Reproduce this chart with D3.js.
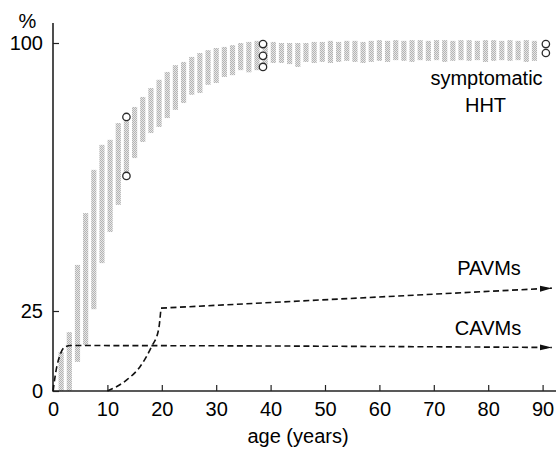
<!DOCTYPE html>
<html>
<head>
<meta charset="utf-8">
<script src="https://cdn.jsdelivr.net/npm/d3@7"></script>
<style>
  body { margin: 0; background: #fff; }
  text { font-family: "Liberation Sans", Arial, sans-serif; fill: #000; }
</style>
</head>
<body>
<div id="chart"></div>
<script>
// age of each gray range bar (years)
var ages = [1.5, 3, 4.5, 6, 7.5, 9, 10.5, 12, 13.5, 15, 16.5, 18, 19.5, 21, 22.5, 24, 25.5, 27, 28.5, 30,
            31.5, 33, 34.5, 36, 37.5, 39, 40.5, 42, 43.5, 45, 46.5, 48, 49.5, 51, 52.5, 54, 55.5, 57, 58.5, 60,
            61.5, 63, 64.5, 66, 67.5, 69, 70.5, 72, 73.5, 75, 76.5, 78, 79.5, 81, 82.5, 84, 85.5, 87, 88.5];
// upper and lower end of each bar (%)
var bandHigh = [12.2, 18.4, 37.9, 52.4, 64.5, 71.5, 72.9, 77.6, 79.0, 82.1, 84.9, 87.4, 89.7, 91.9, 93.8, 94.7, 96.1, 97.2, 98.0, 98.6,
                98.9, 99.4, 100.0, 100.3, 100.6, 100.3, 100.3, 100.0, 100.0, 100.0, 100.0, 100.3, 100.3, 100.6, 100.3, 100.6, 100.6, 100.3, 100.6, 100.8,
                100.6, 100.8, 100.6, 100.8, 100.8, 100.6, 100.8, 100.8, 100.6, 100.8, 100.8, 100.6, 100.8, 100.8, 100.6, 100.8, 100.6, 100.8, 100.6];
var bandLow = [0, 0, 9.1, 14.4, 25.5, 38.4, 47.1, 54.7, 62.5, 67.8, 72.3, 74.8, 76.5, 79.0, 81.3, 83.2, 85.5, 86.0, 88.3, 88.8,
               90.5, 91.0, 92.4, 91.8, 92.4, 93.8, 94.4, 94.4, 94.1, 93.3, 94.7, 94.4, 94.7, 94.4, 94.7, 95.0, 94.7, 94.4, 94.7, 95.0,
               94.7, 95.2, 95.0, 94.7, 95.2, 95.0, 95.2, 94.7, 95.0, 95.2, 95.0, 95.2, 94.7, 95.0, 95.2, 95.0, 95.2, 94.7, 95.0];

// open circles
var circleAges = [13.5, 13.5, 38.6, 38.6, 38.6, 90.6, 90.6];
var circleValues = [79.3, 62.8, 99.7, 96.4, 93.3, 99.7, 97.2];

// dashed curves
var cavmAges = [0, 0.7, 1.3, 2.2, 3.2, 91.7];
var cavmValues = [0, 7.6, 11.3, 13.8, 14.2, 13.6];
var pavmAges = [10, 13.5, 16, 18.1, 19.4, 19.85];
var pavmValues = [0, 3.4, 7.6, 13.8, 19.1, 25.8];
var pavmLineAges = [19.85, 91.7];
var pavmLineValues = [25.8, 31.4];

var xTicks = [0, 10, 20, 30, 40, 50, 60, 70, 80, 90];
var yTicks = [0, 25, 100];

var width = 556, height = 449;

var svg = d3.select('#chart').append('svg')
    .attr('width', width)
    .attr('height', height);

var x = d3.scaleLinear().domain([0, 90]).range([53, 542.6]);
var y = d3.scaleLinear().domain([0, 25, 100]).range([391, 311, 43]);

// stipple fill for the bars
var defs = svg.append('defs');
var pat = defs.append('pattern')
    .attr('id', 'stipple')
    .attr('patternUnits', 'userSpaceOnUse')
    .attr('width', 2).attr('height', 2);
pat.append('rect').attr('width', 2).attr('height', 2).attr('fill', '#e6e6e6');
pat.append('rect').attr('width', 1).attr('height', 1).attr('fill', '#b4b4b4');
pat.append('rect').attr('x', 1).attr('y', 1).attr('width', 1).attr('height', 1).attr('fill', '#b4b4b4');

defs.append('marker')
    .attr('id', 'arrow')
    .attr('markerUnits', 'userSpaceOnUse')
    .attr('viewBox', '0 -4 12 8')
    .attr('refX', 12).attr('refY', 0)
    .attr('markerWidth', 12).attr('markerHeight', 8)
    .attr('orient', 'auto')
  .append('path')
    .attr('d', 'M0,-3L12,0L0,3Z')
    .attr('fill', '#111');

var barW = x(0.95) - x(0);

svg.append('g').selectAll('rect')
    .data(ages)
  .enter().append('rect')
    .attr('x', function(d) { return x(d) - barW / 2; })
    .attr('y', function(d, i) { return y(bandHigh[i]); })
    .attr('width', barW)
    .attr('height', function(d, i) { return y(bandLow[i]) - y(bandHigh[i]); })
    .attr('fill', 'url(#stipple)');

// axes
var xAxis = svg.append('g')
    .attr('transform', 'translate(0,391)')
    .call(d3.axisBottom(x).tickValues(xTicks).tickSize(-6).tickPadding(11));
xAxis.select('.domain').remove();
xAxis.selectAll('line').attr('stroke', '#222').attr('stroke-width', 1.2);
xAxis.selectAll('text').style('font-size', '20px').attr('fill', '#000');

var yAxis = svg.append('g')
    .attr('transform', 'translate(53,0)')
    .call(d3.axisLeft(y).tickValues(yTicks).tickSize(-6).tickPadding(10));
yAxis.select('.domain').remove();
yAxis.selectAll('line').attr('stroke', '#222').attr('stroke-width', 1.2);
yAxis.selectAll('text').style('font-size', '20px').attr('fill', '#000');

svg.append('line')
    .attr('x1', 53).attr('x2', 556).attr('y1', 391).attr('y2', 391)
    .attr('stroke', '#222').attr('stroke-width', 1.6);
svg.append('line')
    .attr('x1', 53).attr('x2', 53).attr('y1', 23).attr('y2', 391.8)
    .attr('stroke', '#222').attr('stroke-width', 1.6);

// dashed lines
var line = d3.line()
    .x(function(d) { return x(d[0]); })
    .y(function(d) { return y(d[1]); });

function dashed(pts, curve, arrow) {
  var p = svg.append('path')
      .attr('d', line.curve(curve)(pts))
      .attr('fill', 'none')
      .attr('stroke', '#111')
      .attr('stroke-width', 1.6)
      .attr('stroke-dasharray', '6,3.5');
  if (arrow) p.attr('marker-end', 'url(#arrow)');
}

dashed(cavmAges.map(function(a, i) { return [a, cavmValues[i]]; }), d3.curveMonotoneX, true);
dashed(pavmAges.map(function(a, i) { return [a, pavmValues[i]]; }), d3.curveMonotoneX, false);
dashed(pavmLineAges.map(function(a, i) { return [a, pavmLineValues[i]]; }), d3.curveLinear, true);

// circles
svg.append('g').selectAll('circle')
    .data(circleAges)
  .enter().append('circle')
    .attr('cx', function(d) { return x(d); })
    .attr('cy', function(d, i) { return y(circleValues[i]); })
    .attr('r', 3.7)
    .attr('fill', '#fff')
    .attr('stroke', '#2a2a2a')
    .attr('stroke-width', 1.3);

// labels
function label(t, lx, ly, anchor) {
  svg.append('text')
      .attr('x', lx).attr('y', ly)
      .attr('text-anchor', anchor || 'middle')
      .style('font-size', '20px')
      .text(t);
}
label('%', 27.5, 28);
label('symptomatic', 486.5, 85);
label('HHT', 485.5, 111.5);
label('PAVMs', 489, 275);
label('CAVMs', 488, 335);
label('age (years)', 298, 443);
</script>
</body>
</html>
